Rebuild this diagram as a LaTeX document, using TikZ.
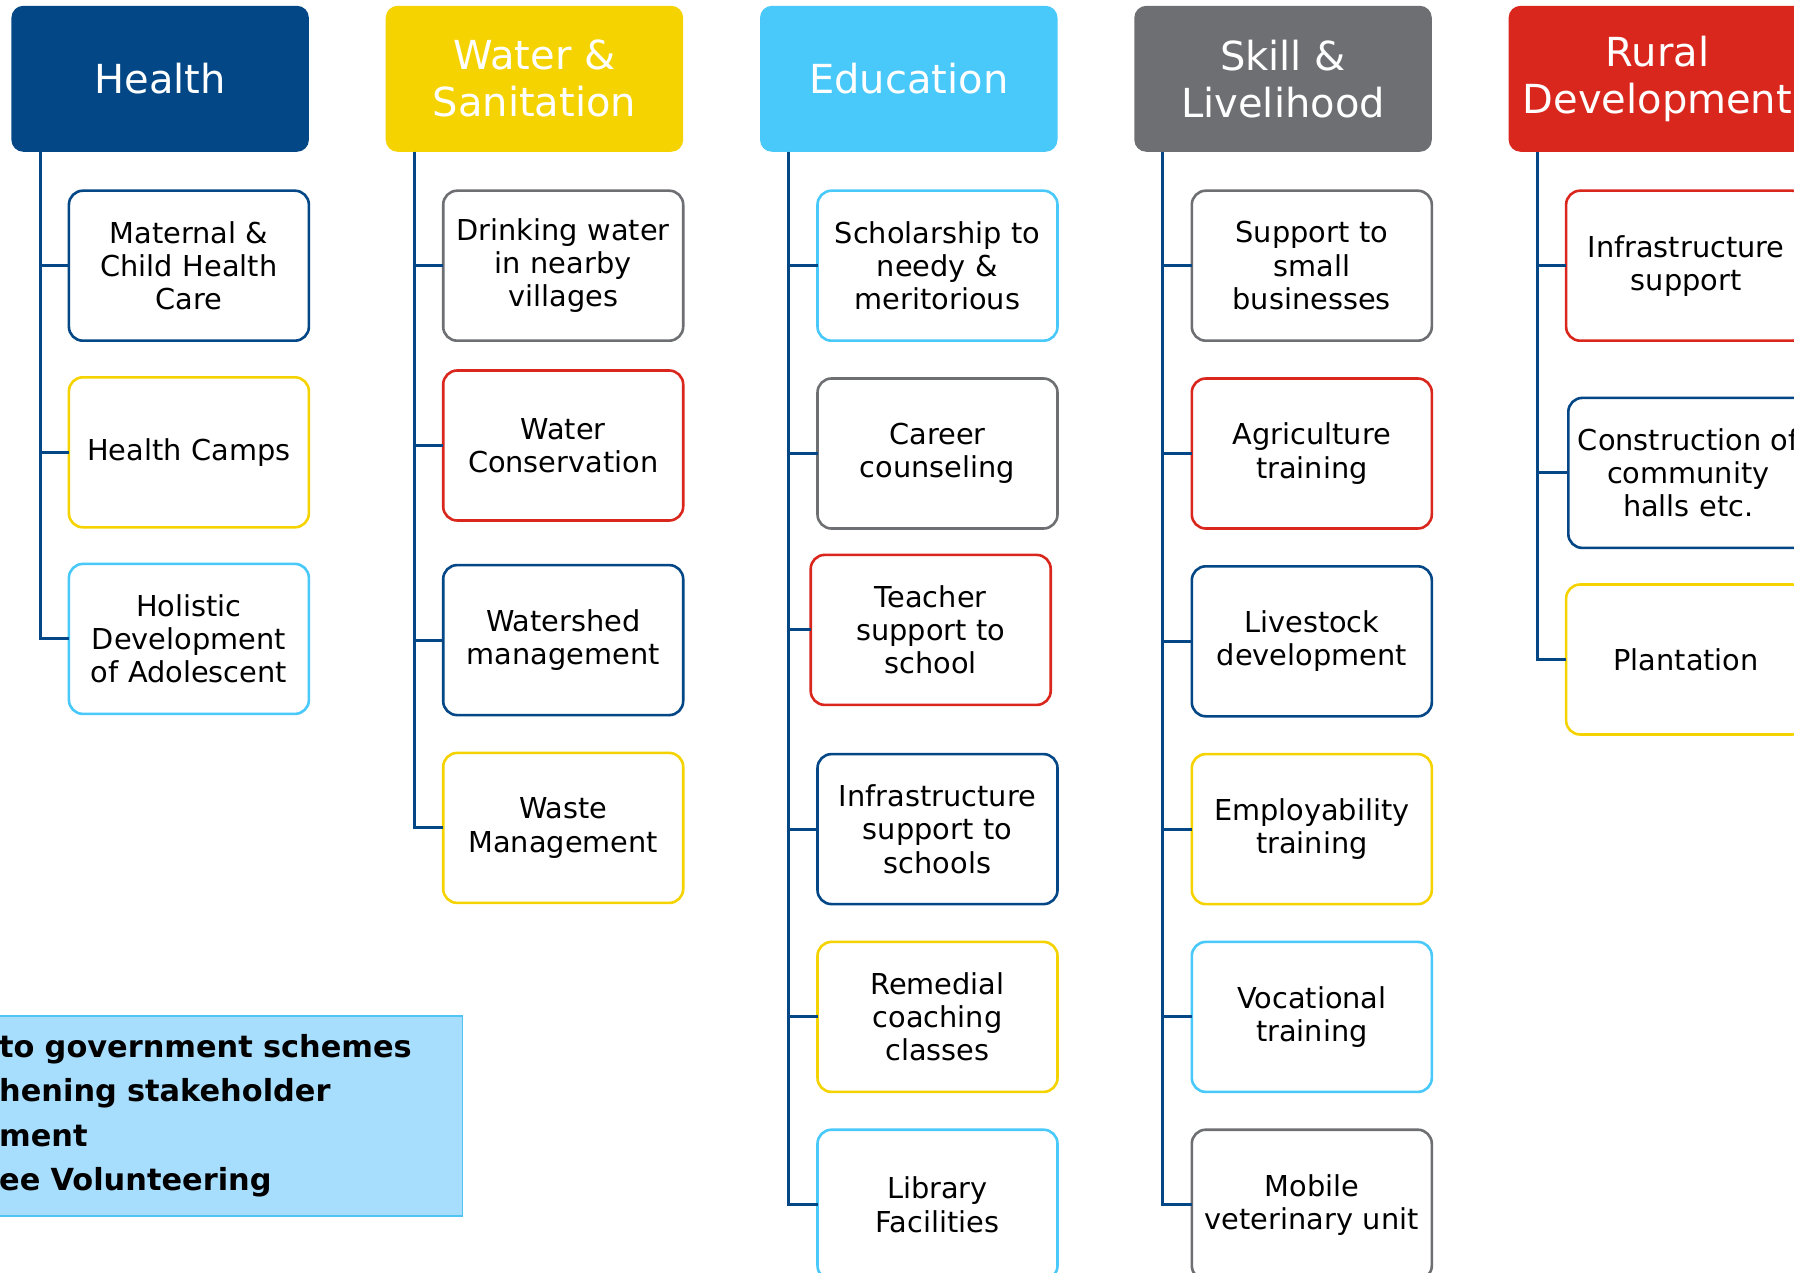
\documentclass[tikz,border=0pt]{standalone}
\usepackage{fontspec}
\setmainfont{DejaVu Sans}
\usepackage{xcolor}
\definecolor{csrblue}{RGB}{3, 71, 134}
\definecolor{csryellow}{RGB}{245, 211, 0}
\definecolor{csrsky}{RGB}{73, 201, 250}
\definecolor{csrgray}{RGB}{110, 111, 115}
\definecolor{csrred}{RGB}{217, 39, 30}
\definecolor{notefill}{RGB}{168, 222, 253}
\definecolor{noteline}{RGB}{80, 196, 245}
\usetikzlibrary{positioning, calc}

\tikzset{
  head/.style={fill=#1, rounded corners=6pt, minimum width=148.75pt, minimum height=73pt, outer sep=0pt, inner sep=2pt, text=white, align=center, font=\fontsize{20}{23.5}\selectfont},
  item/.style={draw=#1, line width=1.3pt, fill=white, rounded corners=7pt, minimum width=120pt, minimum height=75pt, text width=116pt, outer sep=0pt, inner sep=2pt, align=center, font=\fontsize{14.4}{16.6}\selectfont},
  trunk/.style={draw=csrblue, line width=1.5pt},
  note/.style={draw=noteline, line width=0.8pt, fill=notefill, minimum width=241.7pt, minimum height=100pt, text width=221.7pt, inner xsep=10pt, align=left, font=\fontsize{15.2}{22.3}\selectfont\bfseries}
}

\begin{document}
\begin{tikzpicture}[node distance=18.9pt]
\useasboundingbox (0,0) rectangle (897pt,-636.5pt);
\clip (0,0) rectangle (897pt,-636.5pt);

% cabeceras
\node[head=csrblue, anchor=north west] (health) at (5.7pt,-2.9pt) {Health};
\node[head=csryellow, right=38.4pt of health] (water) {Water \&\\Sanitation};
\node[head=csrsky, right=38.4pt of water] (edu) {Education};
\node[head=csrgray, right=38.4pt of edu] (skill) {Skill \&\\Livelihood};
\node[head=csrred, right=38.4pt of skill] (rural) {Rural\\Development};

% troncos
\coordinate (healtht) at ([xshift=14.3pt]health.south west);
\coordinate (watert) at ([xshift=14.3pt]water.south west);
\coordinate (edut) at ([xshift=14.3pt]edu.south west);
\coordinate (skillt) at ([xshift=14.3pt]skill.south west);
\coordinate (ruralt) at ([xshift=14.3pt]rural.south west);

% Health
\node[item=csrblue, below=19.45pt of health.south east, anchor=north east] (hlt1) {Maternal \&\\Child Health\\Care};
\node[item=csryellow, below=18.3pt of hlt1] (hlt2) {Health Camps};
\node[item=csrsky, below=18.3pt of hlt2] (hlt3) {Holistic\\Development\\of Adolescent};

% Water & Sanitation
\node[item=csrgray, below=19.45pt of water.south east, anchor=north east] (wat1) {Drinking water\\in nearby\\villages};
\node[item=csrred, below=14.9pt of wat1] (wat2) {Water\\Conservation};
\node[item=csrblue, below=22.3pt of wat2] (wat3) {Watershed\\management};
\node[item=csryellow, below=of wat3] (wat4) {Waste\\Management};

% Education
\node[item=csrsky, below=19.45pt of edu.south east, anchor=north east] (edu1) {Scholarship to\\needy \&\\meritorious};
\node[item=csrgray, below=of edu1] (edu2) {Career\\counseling};
\node[item=csrred, below=13.2pt of edu2, xshift=-3.4pt] (edu3) {Teacher\\support to\\school};
\node[item=csrblue, below=24.6pt of edu3, xshift=3.4pt] (edu4) {Infrastructure\\support to\\schools};
\node[item=csryellow, below=of edu4] (edu5) {Remedial\\coaching\\classes};
\node[item=csrsky, below=of edu5] (edu6) {Library\\Facilities};

% Skill & Livelihood
\node[item=csrgray, below=19.45pt of skill.south east, anchor=north east] (skl1) {Support to\\small\\businesses};
\node[item=csrred, below=of skl1] (skl2) {Agriculture\\training};
\node[item=csrblue, below=of skl2] (skl3) {Livestock\\development};
\node[item=csryellow, below=of skl3] (skl4) {Employability\\training};
\node[item=csrsky, below=of skl4] (skl5) {Vocational\\training};
\node[item=csrgray, below=of skl5] (skl6) {Mobile\\veterinary unit};

% Rural Development
\node[item=csrred, below=19.45pt of rural.south east, anchor=north east] (rur1) {Infrastructure\\support};
\node[item=csrblue, below=28.6pt of rur1, xshift=1.1pt] (rur2) {Construction of\\community\\halls etc.};
\node[item=csryellow, below=18.3pt of rur2, xshift=-1.1pt] (rur3) {Plantation};

% ramas
\foreach \n in {hlt1,hlt2,hlt3} \draw[trunk] (healtht) |- (\n.west);
\foreach \n in {wat1,wat2,wat3,wat4} \draw[trunk] (watert) |- (\n.west);
\foreach \n in {edu1,edu2,edu3,edu4,edu5,edu6} \draw[trunk] (edut) |- (\n.west);
\foreach \n in {skl1,skl2,skl3,skl4,skl5,skl6} \draw[trunk] (skillt) |- (\n.west);
\foreach \n in {rur1,rur2,rur3} \draw[trunk] (ruralt) |- (\n.west);

% nota
\node[note, anchor=north east] (note) at (231.7pt,-507.5pt) {to government schemes\\hening stakeholder\\ment\\ee Volunteering};
\end{tikzpicture}
\end{document}
